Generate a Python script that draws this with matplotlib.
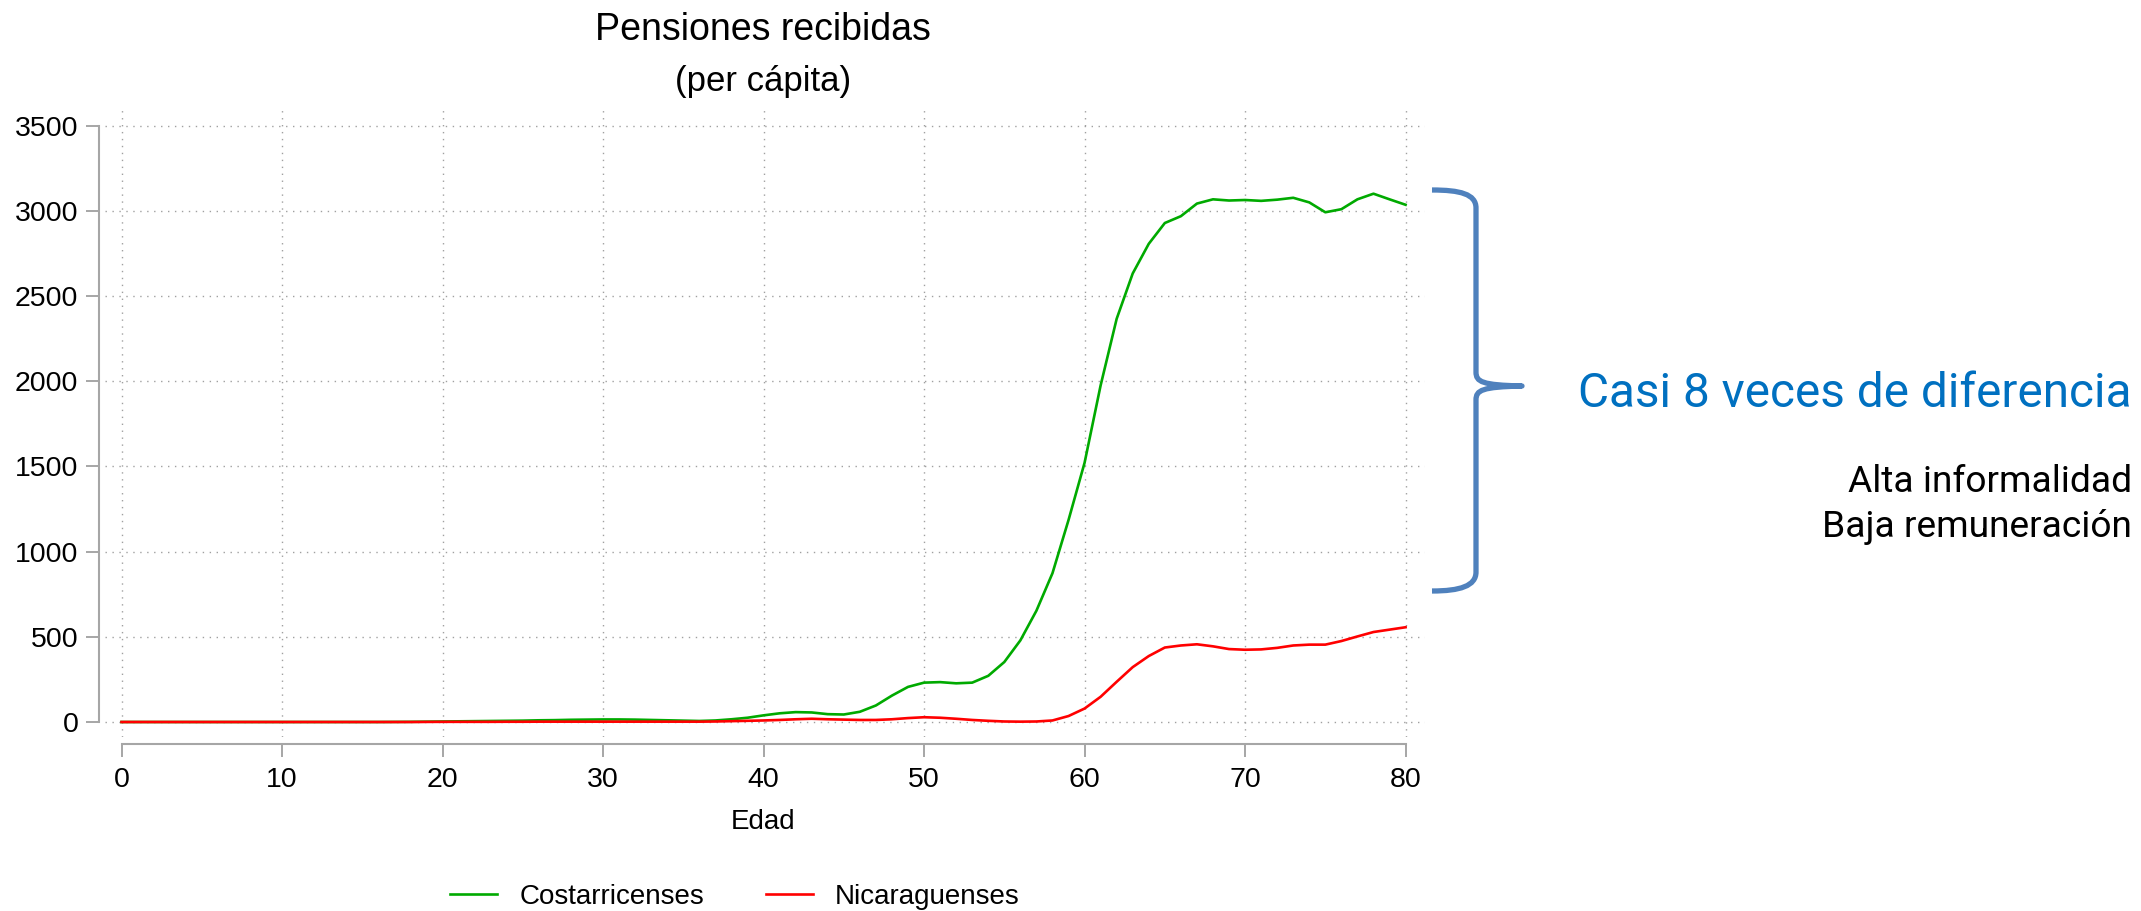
import matplotlib
matplotlib.use('Agg')
import matplotlib.pyplot as plt
from matplotlib.path import Path
from matplotlib.patches import PathPatch

# ages and per-capita pensions
edad = list(range(0, 81))

costarricenses = [0, 0, 0, 0, 0, 0, 0, 0, 0, 0,
                  0, 0, 0, 0, 0, 0, 0, 0.5, 1, 2,
                  3, 4, 5, 6, 7, 8, 10, 11, 13, 14,
                  15, 15, 14, 12, 10, 8, 6, 9, 16, 25,
                  39, 51, 58, 56, 46, 44, 60, 97, 155, 206,
                  231, 234, 227, 231, 271, 352, 479, 653, 873, 1185,
                  1521, 1975, 2366, 2632, 2806, 2928, 2968, 3042, 3067, 3060,
                  3063, 3058, 3065, 3076, 3049, 2991, 3009, 3067, 3100, 3067,
                  3035]

nicaraguenses = [0, 0, 0, 0, 0, 0, 0, 0, 0, 0,
                 0, 0, 0, 0, 0, 0, 0, 0, 0, 0.5,
                 1, 1, 1, 1, 1.5, 1.5, 2, 2, 2, 2,
                 2, 2, 2, 2, 2, 2, 2, 3, 5, 7,
                 9, 12, 16, 19, 16, 14, 12, 12, 16, 23,
                 28, 25, 19, 12, 7, 3, 2, 3, 9, 35,
                 79, 148, 236, 322, 387, 437, 449, 456, 444, 428,
                 424, 426, 435, 449, 454, 454, 475, 502, 528, 542,
                 556]

series_names = ['Costarricenses', 'Nicaraguenses']
series_colors = ['#00AA00', '#FF0000']
x_ticks = list(range(0, 81, 10))
y_ticks = list(range(0, 3501, 500))

W, H = 2141, 911


def px(x, y):
    # pixel position (from top-left) -> figure fraction
    return x / W, 1 - y / H


plt.rcParams['font.family'] = ['Liberation Sans', 'DejaVu Sans']
fig = plt.figure(figsize=(W / 100, H / 100), dpi=100)
fig.patch.set_facecolor('white')

left, top = px(105, 109)
right, bottom = px(1425, 737)
ax = fig.add_axes([left, bottom, right - left, top - bottom])

for vals, name, col in zip([costarricenses, nicaraguenses], series_names, series_colors):
    ax.plot(edad, vals, color=col, lw=1.9, label=name, solid_joinstyle='round')

ax.set_xlim(-1.03, 81.21)
ax.set_ylim(-88, 3597)
ax.set_xticks(x_ticks)
ax.set_yticks(y_ticks)

for s in ['top', 'right']:
    ax.spines[s].set_visible(False)
ax.spines['left'].set_position(('outward', 4.3))
ax.spines['bottom'].set_position(('outward', 5))
ax.spines['left'].set_bounds(0, 3500)
ax.spines['bottom'].set_bounds(0, 80)
for s in ['left', 'bottom']:
    ax.spines[s].set_color('#a6a6a6')
    ax.spines[s].set_linewidth(1.5)

ax.tick_params(axis='both', length=9.4, width=1.4, color='#a6a6a6', labelsize=20.5)
ax.tick_params(axis='y', pad=5.5)
ax.tick_params(axis='x', pad=7)

ax.grid(True, color='#a0a0a0', lw=1.0, ls=(0, (1, 4)))
ax.set_axisbelow(True)

# titles
fig.text(*px(763, 40), 'Pensiones recibidas', ha='center', va='baseline', fontsize=27)
fig.text(*px(763, 91), '(per cápita)', ha='center', va='baseline', fontsize=25)
fig.text(*px(763, 822), 'Edad', ha='center', va='center', fontsize=20)

# legend
h, l = ax.get_legend_handles_labels()
fig.legend(h, l, loc='center', bbox_to_anchor=px(735, 897), ncol=2, frameon=False,
           fontsize=20, handlelength=1.7, handletextpad=0.8, columnspacing=2.2)

# brace
verts = [(1432, 190), (1460, 190), (1476, 194), (1476, 208),
         (1476, 372),
         (1476, 382), (1482, 385), (1522, 386),
         (1482, 387), (1476, 390), (1476, 400),
         (1476, 572),
         (1476, 586), (1460, 591), (1432, 591)]
codes = [Path.MOVETO, Path.CURVE4, Path.CURVE4, Path.CURVE4,
         Path.LINETO,
         Path.CURVE4, Path.CURVE4, Path.CURVE4,
         Path.CURVE4, Path.CURVE4, Path.CURVE4,
         Path.LINETO,
         Path.CURVE4, Path.CURVE4, Path.CURVE4]
brace = PathPatch(Path([px(*v) for v in verts], codes), transform=fig.transFigure,
                  fill=False, edgecolor='#4F81BD', lw=3.8, capstyle='butt', joinstyle='round')
fig.add_artist(brace)

# annotation text
fig.text(*px(2132, 407), 'Casi 8 veces de diferencia', ha='right', va='baseline',
         color='#0070C0', fontsize=34.4, family=['Roboto', 'DejaVu Sans'])
fig.text(*px(2132, 492), 'Alta informalidad', ha='right', va='baseline',
         color='black', fontsize=26.7, family=['Roboto', 'DejaVu Sans'])
fig.text(*px(2132, 537), 'Baja remuneración', ha='right', va='baseline',
         color='black', fontsize=26.7, family=['Roboto', 'DejaVu Sans'])

fig.savefig('out.png', dpi=100)
